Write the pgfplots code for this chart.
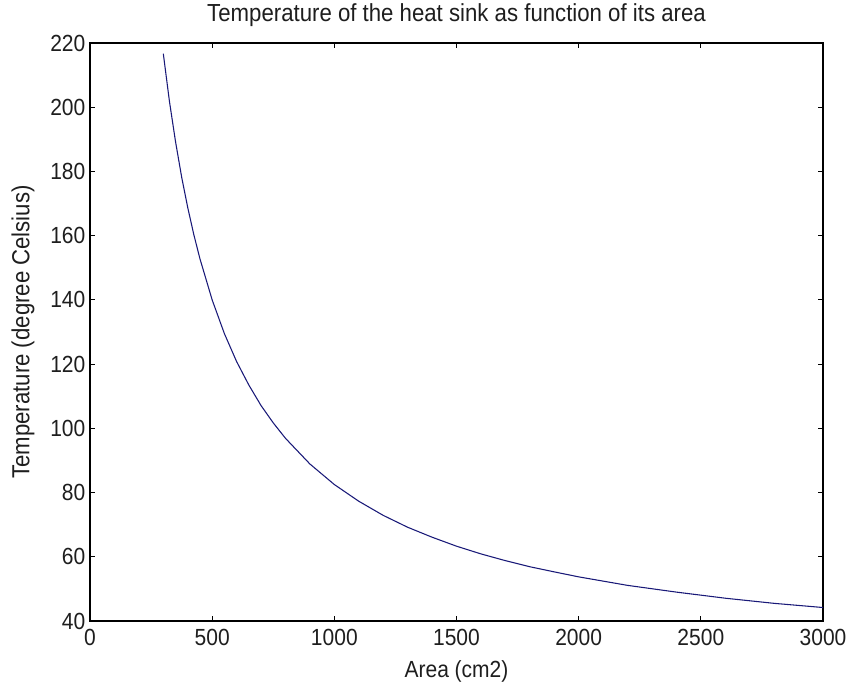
\documentclass[border=0pt]{standalone}
\usepackage{pgfplots}
\pgfplotsset{compat=1.18}
\usepackage{fontspec}
\setmainfont[FakeStretch=0.9]{Liberation Sans}
\definecolor{curve}{RGB}{25,25,120}
\definecolor{txt}{RGB}{30,30,30}
\begin{document}
\begin{tikzpicture}
\useasboundingbox (-67.5pt,-46.5pt) rectangle (568.5pt,465.75pt);
\begin{axis}[
  at={(0,0)}, anchor=south west,
  scale only axis, width=549.75pt, height=433.5pt,
  xmin=0, xmax=3000, ymin=40, ymax=220,
  xtick={0,500,...,3000}, ytick={40,60,...,220},
  /pgf/number format/assume math mode=true,
  /pgf/number format/1000 sep={},
  tick label style={font=\fontsize{17.5}{20}\selectfont, text=txt},
  label style={font=\fontsize{17.5}{20}\selectfont, text=txt},
  title style={font=\fontsize{18.5}{21}\selectfont, text=txt, yshift=2.5pt},
  title={Temperature of the heat sink as function of its area},
  xlabel={Area (cm2)}, ylabel={Temperature (degree Celsius)},
  major tick length=4pt,
  axis line style={line width=0.8pt},
  tick style={line width=0.8pt, black},
  xticklabel style={yshift=-2.5pt},
  ylabel style={yshift=5pt, font=\fontsize{18.5}{21}\selectfont},
  xlabel style={yshift=-4.5pt},
]
\addplot[curve, line width=0.8pt, no marks] coordinates {
(300,216.7) (325,201.9) (350,189.3) (375,178.3) (400,168.75) (425,160.3)
(450,152.8) (500,140) (550,129.5) (600,120.8) (650,113.5) (700,107.1)
(750,101.7) (800,96.9) (900,88.9) (1000,82.5) (1100,77.3) (1200,72.9)
(1300,69.2) (1400,66.1) (1500,63.3) (1600,60.9) (1700,58.8) (1800,56.9)
(1900,55.3) (2000,53.75) (2200,51.1) (2400,49.0) (2600,47.1) (2800,45.5)
(3000,44.2)
};
\end{axis}
\end{tikzpicture}
\end{document}
